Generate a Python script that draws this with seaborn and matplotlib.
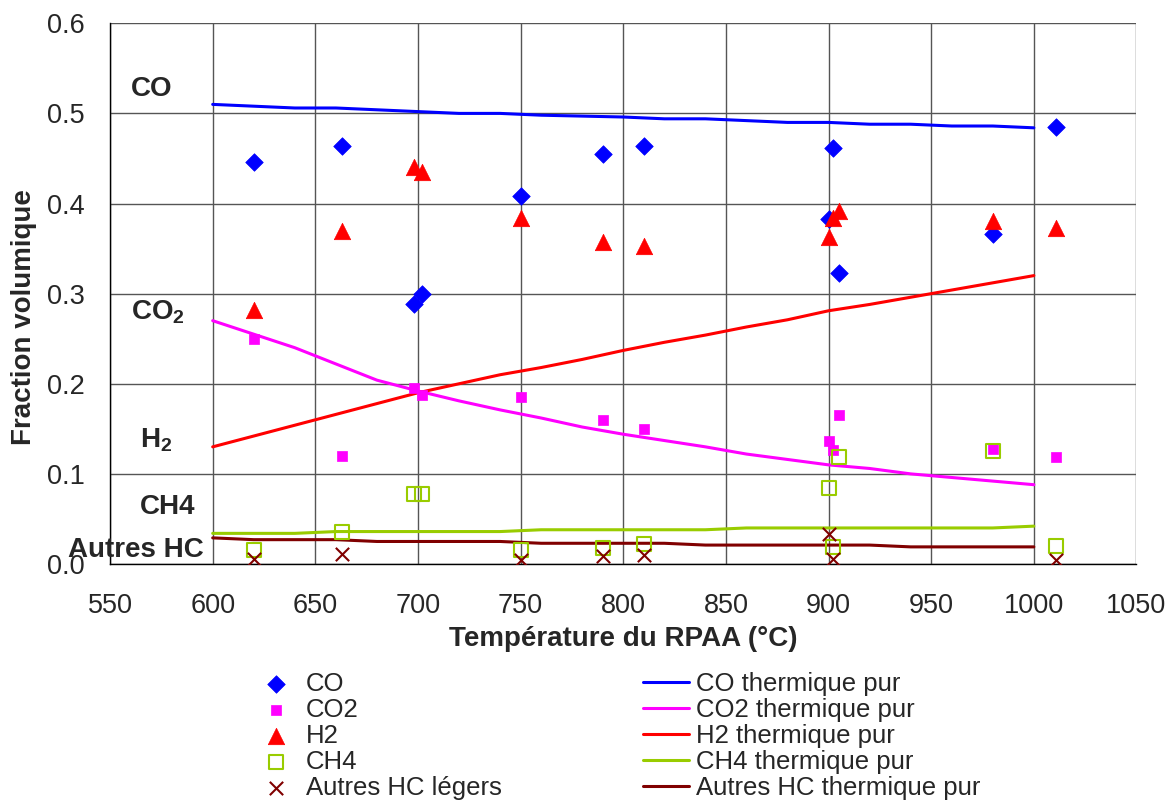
import matplotlib
matplotlib.use("Agg")
import matplotlib.pyplot as plt
import seaborn as sns

# measured points (RPAA)
co_T = [620, 663, 698, 702, 750, 790, 810, 900, 902, 905, 980, 1011]
co_y = [0.446, 0.464, 0.288, 0.300, 0.408, 0.455, 0.464, 0.383, 0.462, 0.323, 0.366, 0.485]

co2_T = [620, 663, 698, 702, 750, 790, 810, 900, 902, 905, 980, 1011]
co2_y = [0.250, 0.120, 0.195, 0.188, 0.185, 0.160, 0.150, 0.136, 0.127, 0.165, 0.128, 0.119]

h2_T = [620, 663, 698, 702, 750, 790, 810, 900, 902, 905, 980, 1011]
h2_y = [0.282, 0.369, 0.440, 0.435, 0.384, 0.357, 0.353, 0.363, 0.384, 0.392, 0.381, 0.373]

ch4_T = [620, 663, 698, 702, 750, 790, 810, 900, 902, 905, 980, 1011]
ch4_y = [0.016, 0.036, 0.078, 0.078, 0.016, 0.018, 0.022, 0.084, 0.019, 0.119, 0.125, 0.020]

hc_T = [620, 663, 750, 790, 810, 900, 902, 1011]
hc_y = [0.006, 0.011, 0.004, 0.009, 0.010, 0.033, 0.006, 0.004]

# pure thermal curves
th_T = [600, 620, 640, 660, 680, 700, 720, 740, 760, 780, 800,
        820, 840, 860, 880, 900, 920, 940, 960, 980, 1000]
co_th = [0.510, 0.508, 0.506, 0.506, 0.504, 0.502, 0.500, 0.500, 0.498, 0.497, 0.496,
         0.494, 0.494, 0.492, 0.490, 0.490, 0.488, 0.488, 0.486, 0.486, 0.484]
co2_th = [0.270, 0.255, 0.240, 0.222, 0.204, 0.192, 0.181, 0.171, 0.162, 0.152, 0.144,
          0.137, 0.130, 0.122, 0.116, 0.110, 0.106, 0.100, 0.096, 0.092, 0.088]
h2_th = [0.130, 0.142, 0.154, 0.166, 0.178, 0.190, 0.200, 0.210, 0.218, 0.227, 0.237,
         0.246, 0.254, 0.263, 0.271, 0.281, 0.288, 0.296, 0.304, 0.312, 0.320]
ch4_th = [0.034, 0.034, 0.034, 0.036, 0.036, 0.036, 0.036, 0.036, 0.038, 0.038, 0.038,
          0.038, 0.038, 0.040, 0.040, 0.040, 0.040, 0.040, 0.040, 0.040, 0.042]
hc_th = [0.029, 0.027, 0.027, 0.027, 0.025, 0.025, 0.025, 0.025, 0.023, 0.023, 0.023,
         0.023, 0.021, 0.021, 0.021, 0.021, 0.021, 0.019, 0.019, 0.019, 0.019]

x_ticks = [550, 600, 650, 700, 750, 800, 850, 900, 950, 1000, 1050]
y_ticks = [0.0, 0.1, 0.2, 0.3, 0.4, 0.5, 0.6]

sns.set_theme(style="white")
plt.rcParams['font.family'] = ['Liberation Sans', 'DejaVu Sans']
plt.rcParams['mathtext.fontset'] = 'custom'
plt.rcParams['mathtext.rm'] = 'Liberation Sans'
plt.rcParams['mathtext.bf'] = 'Liberation Sans:bold'

fig = plt.figure(figsize=(11.72, 8.0), dpi=100)
fig.subplots_adjust(left=0.0939, right=0.9697, bottom=0.295, top=0.9709)
ax = fig.add_subplot(111)

blue, pink, red, green, brown = '#0000FF', '#FF00FF', '#FF0000', '#99CC00', '#800000'

sns.scatterplot(x=co_T, y=co_y, marker='D', s=80, color=blue, edgecolor=blue,
                linewidth=0.5, label='CO', ax=ax, zorder=4)
sns.scatterplot(x=co2_T, y=co2_y, marker='s', s=55, color=pink, edgecolor=pink,
                linewidth=0.5, label='CO2', ax=ax, zorder=4)
sns.scatterplot(x=h2_T, y=h2_y, marker='^', s=140, color=red, edgecolor=red,
                linewidth=0.5, label='H2', ax=ax, zorder=4)
sns.scatterplot(x=ch4_T, y=ch4_y, marker='s', s=100, color=green, facecolors='none',
                edgecolors=green, linewidth=1.5, label='CH4', ax=ax, zorder=4)
sns.scatterplot(x=hc_T, y=hc_y, marker='x', s=92, color=brown,
                linewidth=1.5, label='Autres HC légers', ax=ax, zorder=4)

sns.lineplot(x=th_T, y=co_th, color=blue, lw=2.2, label='CO thermique pur', ax=ax, zorder=3)
sns.lineplot(x=th_T, y=co2_th, color=pink, lw=2.2, label='CO2 thermique pur', ax=ax, zorder=3)
sns.lineplot(x=th_T, y=h2_th, color=red, lw=2.2, label='H2 thermique pur', ax=ax, zorder=3)
sns.lineplot(x=th_T, y=ch4_th, color=green, lw=2.2, label='CH4 thermique pur', ax=ax, zorder=3)
sns.lineplot(x=th_T, y=hc_th, color=brown, lw=2.2, label='Autres HC thermique pur', ax=ax, zorder=3)

ax.set_xlim(550, 1050)
ax.set_ylim(0, 0.6)
ax.set_xticks(x_ticks)
ax.set_yticks(y_ticks)
ax.set_yticklabels([f"{v:.1f}" for v in y_ticks])
ax.grid(True, color='#555555', lw=1)
ax.set_axisbelow(True)
for side in ['top', 'right']:
    ax.spines[side].set_visible(False)
for side in ['left', 'bottom']:
    ax.spines[side].set_color('black')
    ax.spines[side].set_linewidth(1)
ax.tick_params(axis='both', direction='out', length=10, width=1, color='black',
               labelsize=19.5, pad=11)
ax.tick_params(axis='y', length=9, pad=9)

ax.set_xlabel('Température du RPAA (°C)', fontsize=20, fontweight='bold', labelpad=5)
ax.set_ylabel('Fraction volumique', fontsize=20, fontweight='bold')
ax.yaxis.set_label_coords(-0.0711, 0.456)

# species labels on the left
notes = [('CO', 560, 0.527), (r'CO$_\mathbf{2}$', 560, 0.28), (r'H$_\mathbf{2}$', 564.5, 0.137),
         ('CH4', 564.5, 0.063), ('Autres HC', 529.5, 0.016)]
for txt, xx, yy in notes:
    ax.text(xx, yy, txt, fontsize=20, fontweight='bold', ha='left', va='center',
            clip_on=False, zorder=5)

handles, labels = ax.get_legend_handles_labels()
order = ['CO', 'CO2', 'H2', 'CH4', 'Autres HC légers',
         'CO thermique pur', 'CO2 thermique pur', 'H2 thermique pur',
         'CH4 thermique pur', 'Autres HC thermique pur']
hmap = dict(zip(labels, handles))
ax.get_legend().remove()
fig.legend([hmap[l] for l in order], order, ncol=2, loc='upper left',
           bbox_to_anchor=(253 / 1172, 1 - 672 / 800), frameon=False, fontsize=18.5,
           handlelength=1.79, handletextpad=0.27, columnspacing=5.5,
           labelspacing=0.08, borderpad=0, borderaxespad=0)

fig.savefig('out.png', dpi=100)
